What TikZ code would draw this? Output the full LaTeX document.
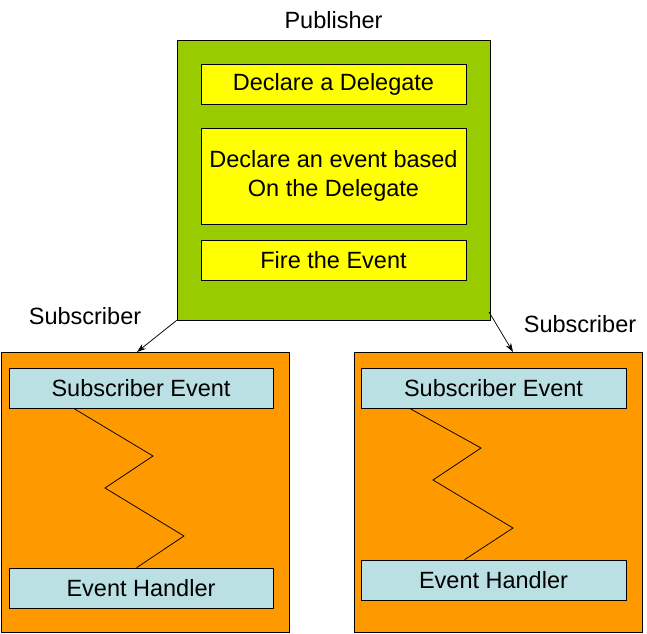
\documentclass[tikz,border=0pt]{standalone}
\usepackage{fontspec}
\setmainfont{Liberation Sans}
\usepackage{tikz}
\usetikzlibrary{arrows.meta}
\usetikzlibrary{positioning}
\definecolor{pubgreen}{RGB}{153,204,0}
\definecolor{stepyellow}{RGB}{255,255,0}
\definecolor{suborange}{RGB}{255,153,0}
\definecolor{handlerblue}{RGB}{187,224,227}
\newcommand\labelsize{\fontsize{23.5}{29}\selectfont}

\begin{document}
\begin{tikzpicture}[x=1pt, y=-1pt, line width=0.75pt,
        outerbox/.style={draw=black, inner sep=0pt, minimum width=#1},
        yellowbox/.style={draw=black, fill=stepyellow, inner sep=0pt,
                    minimum width=265pt, font=\labelsize, align=center},
        bluebox/.style={draw=black, fill=handlerblue, inner sep=0pt,
                    minimum width=264pt, minimum height=40pt, font=\labelsize},
        tip/.style={-{Stealth[length=9pt,width=6pt]}}]
        \useasboundingbox (0,0) rectangle (647,633);
        % publisher
        \node[outerbox=313pt, fill=pubgreen, minimum height=280pt] (pub) at (333.5,180) {};
        \node[font=\labelsize] (publabel) at (333.5,20) {Publisher};
        \node[yellowbox, minimum height=40pt] (dlg) at (333.5,84) {Declare a Delegate};
        \node[yellowbox, minimum height=96pt] (evt) at (333.5,176)
                    {Declare an event based\\On the Delegate};
        \node[yellowbox, minimum height=40pt] (fire) at (333.5,260) {Fire the Event};
        % subscribers
        \node[outerbox=288pt, fill=suborange, minimum height=280pt] (subL) at (145,492) {};
        \node[outerbox=288pt, fill=suborange, minimum height=280pt] (subR) at (498,492) {};
        \node[font=\labelsize] (sublabelL) at (85,316) {Subscriber};
        \node[font=\labelsize] (sublabelR) at (580,324) {Subscriber};
        \node[bluebox] (seL) at (141,388) {Subscriber Event};
        \node[bluebox] (ehL) at (141,588) {Event Handler};
        \node[bluebox, minimum width=265pt] (seR) at (493.5,388) {Subscriber Event};
        \node[bluebox, minimum width=265pt] (ehR) at (493.5,580) {Event Handler};
        % connectors
        \coordinate (inL) at (137,352);
        \coordinate (outR) at (489,312);
        \coordinate (inR) at (513,352);
        \draw[tip] (pub.south west) -- (inL);
        \draw[tip] (outR) -- (inR);
        \draw ([xshift=65pt]seL.south west) -- (153,456) -- (105,488)
                    -- (184,536) -- ([xshift=128pt]ehL.north west);
        \draw ([xshift=49pt]seR.south west) -- (481,448) -- (433,480)
                    -- (513,528) -- ([xshift=104pt]ehR.north west);
    \end{tikzpicture}
\end{document}
